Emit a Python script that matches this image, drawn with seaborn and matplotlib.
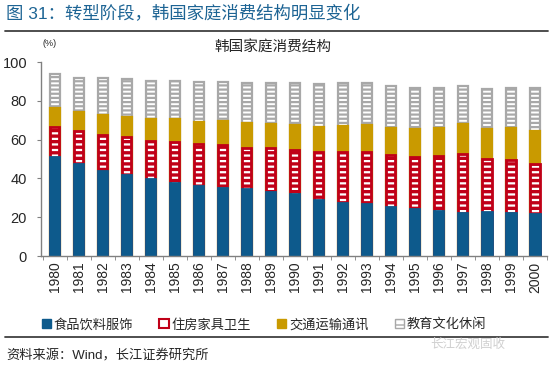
import numpy as np
import pandas as pd
import matplotlib
matplotlib.use('Agg')
import matplotlib.pyplot as plt
from matplotlib.patches import Patch
from matplotlib.lines import Line2D
import seaborn as sns

sns.set_style('white')
plt.rcParams['font.family'] = ['Liberation Sans', 'Noto Sans CJK SC', 'DejaVu Sans']

# 数据 (%)
years = [str(y) for y in range(1980, 2001)]
food = [51.2, 47.3, 44.0, 41.8, 39.5, 37.5, 36.3, 35.2, 34.4, 33.1, 31.8,
        28.9, 27.5, 26.8, 25.4, 24.1, 23.2, 22.0, 22.8, 22.3, 21.6]
housing = [15.4, 17.1, 18.4, 19.7, 19.8, 21.1, 21.4, 21.8, 21.4, 22.4, 22.8,
           24.5, 25.9, 26.6, 26.7, 27.1, 28.3, 30.4, 27.4, 27.2, 25.8]
transport = [9.8, 9.6, 10.3, 10.3, 11.2, 11.9, 11.6, 12.6, 12.6, 12.4, 12.9,
             13.2, 13.6, 14.1, 14.0, 14.1, 14.3, 15.6, 15.3, 16.3, 17.2]
education = [17.2, 17.7, 19.0, 19.4, 19.9, 19.9, 20.6, 20.3, 20.6, 21.1, 21.5,
             21.9, 22.0, 21.5, 21.5, 21.3, 20.8, 19.6, 20.7, 20.8, 22.0]
labels = ['食品饮料服饰', '住房家具卫生', '交通运输通讯', '教育文化休闲']

df = pd.DataFrame({'year': years, 'food': food, 'housing': housing,
                   'transport': transport, 'education': education})
df['c1'] = df['food']
df['c2'] = df['c1'] + df['housing']
df['c3'] = df['c2'] + df['transport']
df['c4'] = df['c3'] + df['education']

blue = '#0d5a8c'
red = '#c00018'
gold = '#c99a00'
gray = '#a8a8a8'

fig = plt.figure(figsize=(5.5, 3.68), dpi=100)
ax = fig.add_axes([41 / 550, 1 - 256 / 368, 506 / 550, 194 / 368])

# 叠加画法: 从最高的累计值开始 (列, 填充, 边框, 阴影, 阴影线宽, 宽度, 边框线宽)
layers = [
    ('c4', 'white', gray, '----', 1.6, 0.40, 1.6),
    ('c3', gold, gold, None, 0, 0.40, 1.6),
    ('c2', 'white', red, '---', 2.4, 0.376, 2.0),
    ('c1', blue, blue, None, 0, 0.376, 2.0),
]
for col, face, edge, hatch, hlw, w, lw in layers:
    n0 = len(ax.patches)
    sns.barplot(data=df, x='year', y=col, color=face, width=w,
                saturation=1, ax=ax)
    for p in ax.patches[n0:]:
        p.set_facecolor(face)
        p.set_edgecolor(edge)
        p.set_linewidth(lw)
        if hatch:
            p.set_hatch(hatch)
            p.set_hatch_linewidth(hlw)

ax.set_ylim(0, 100)
ax.set_xlim(-0.58, 20.5)
ax.set_yticks([0, 20, 40, 60, 80, 100])
ax.set_xlabel('')
ax.set_ylabel('')
ax.tick_params(axis='y', labelsize=10.5, length=3, color='#808080', left=True,
               pad=7)
ax.tick_params(axis='x', labelsize=10, rotation=90, length=0, pad=4)
ax.set_xticks(np.arange(-0.5, 20.6, 1), minor=True)
ax.tick_params(axis='x', which='minor', length=3, color='#808080', bottom=True)
for s in ['top', 'right']:
    ax.spines[s].set_visible(False)
for s in ['left', 'bottom']:
    ax.spines[s].set_color('#808080')
    ax.spines[s].set_linewidth(1.0)

fig.text(50 / 550, 1 - 44 / 368, '(%)', fontsize=6.5, ha='center', va='center')
fig.text(273 / 550, 1 - 48 / 368, '韩国家庭消费结构', fontsize=10.5,
         ha='center', va='center')

# 图例
handles = [
    Patch(facecolor=blue, edgecolor=blue),
    Patch(facecolor='white', edgecolor=red, linewidth=1.5),
    Patch(facecolor=gold, edgecolor=gold),
    Patch(facecolor='white', edgecolor=gray, hatch='---', linewidth=1.0),
]
fig.legend(handles, labels, loc='center', ncol=4,
           bbox_to_anchor=(264 / 550, 1 - 325 / 368), frameon=False,
           fontsize=9.5, handlelength=0.7, handleheight=0.7,
           handletextpad=0.2, columnspacing=2.0)

# 页眉页脚
fig.text(6 / 550, 1 - 14 / 368, '图 31：转型阶段，韩国家庭消费结构明显变化',
         fontsize=12.5, color='#1d6494', ha='left', va='center')
fig.add_artist(Line2D([5 / 550, 548 / 550], [1 - 31 / 368, 1 - 31 / 368],
                      color='#404040', lw=1.3))
fig.add_artist(Line2D([5 / 550, 548 / 550], [1 - 337 / 368, 1 - 337 / 368],
                      color='#404040', lw=1.3))
fig.text(6 / 550, 1 - 356 / 368, '资料来源：Wind，长江证券研究所',
         fontsize=9.5, ha='left', va='center')
fig.text(505 / 550, 1 - 345 / 368, '长江宏观固收', fontsize=9,
         color='#d0d0d0', ha='right', va='center')

fig.savefig('out.png', dpi=100)
